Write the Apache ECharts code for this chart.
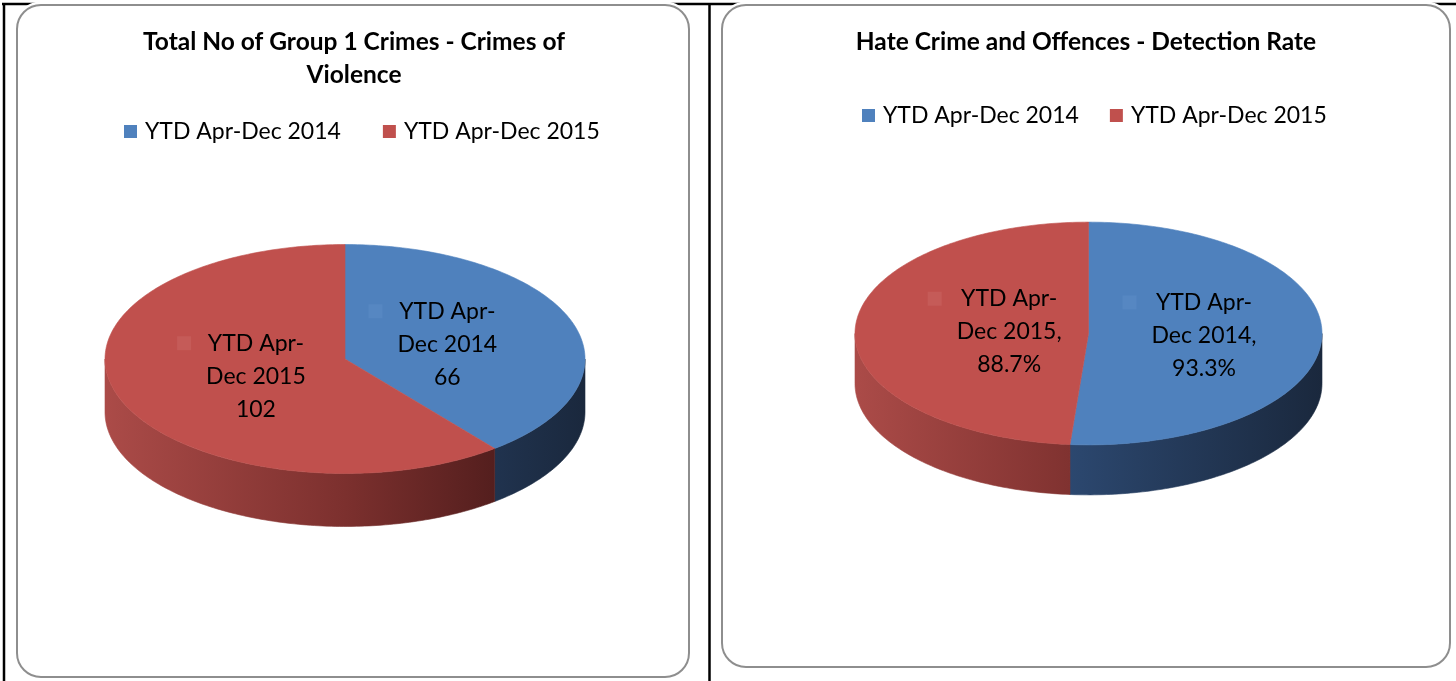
<!DOCTYPE html>
<html><head><meta charset="utf-8">
<script src="https://cdn.jsdelivr.net/npm/echarts@6/dist/echarts.min.js"></script>
<style>html,body{margin:0;padding:0;background:#fff;} #c{width:1456px;height:681px;}</style>
</head><body><div id="c"></div>
<script>
// ---------- data ----------
const categories = ['YTD Apr-Dec 2014', 'YTD Apr-Dec 2015'];
const crimesOfViolence = [66, 102];
const hateDetectionRate = [93.3, 88.7];
const chartTitles = ['Total No of Group 1 Crimes - Crimes of\nViolence', 'Hate Crime and Offences - Detection Rate'];

// ---------- style / layout ----------
const FONT = 'Lato, "Open Sans", sans-serif';
const LABEL_SIZE = 23, LABEL_LH = 33;
const topColors = ['#4f81bd', '#c0504d'];
const keyColors = ['#5687c2', '#c55b58'];
const sideStops = [
  [{offset: 0, color: '#3e6090'}, {offset: 0.45, color: '#2c4870'}, {offset: 1, color: '#1a283d'}],
  [{offset: 0, color: '#ab4b48'}, {offset: 0.5, color: '#7c302e'}, {offset: 1, color: '#3c1414'}]
];
const pies = [
  {values: crimesOfViolence, cx: 345, cy: 359, rx: 240, k: 0.477, depth: 53, sep: '\n',
   fmt: v => String(v), labelR: [0.39, 0.455]},
  {values: hateDetectionRate, cx: 1088.5, cy: 333.5, rx: 233.5, k: 0.477, depth: 50, sep: ',\n',
   fmt: v => v.toFixed(1) + '%', labelR: [0.435, 0.40]}
];
pies.forEach(p => { p.total = p.values.reduce((a, b) => a + b, 0); });

const measureCtx = document.createElement('canvas').getContext('2d');
measureCtx.font = LABEL_SIZE + 'px ' + FONT;
function textWidth(lines) { return Math.max.apply(null, lines.map(l => measureCtx.measureText(l).width)); }

function makeRender(p, idx) {
  return function (params, api) {
    const a0 = api.value(1), a1 = api.value(2), raw = api.value(3);
    const total = p.total;
    const c = api.coord([0, 0]);
    const cx = c[0], cy = c[1];
    const sq = pt => [pt[0], cy + (pt[1] - cy) * p.k];
    const arc = (s, e) => {
      const n = Math.max(2, Math.ceil((e - s) / total * 360));
      const pts = [];
      for (let j = 0; j <= n; j++) pts.push(sq(api.coord([1, s + (e - s) * j / n])));
      return pts;
    };
    const rx = api.coord([1, total * 0.25])[0] - cx;
    const children = [];
    const f0 = Math.max(a0, total * 0.25), f1 = Math.min(a1, total * 0.75);
    if (f1 > f0) {
      const topArc = arc(f0, f1);
      const bottom = topArc.map(q => [q[0], q[1] + p.depth]).reverse();
      const grad = new echarts.graphic.LinearGradient(cx - rx, 0, cx + rx, 0, sideStops[idx], true);
      children.push({type: 'polygon', shape: {points: topArc.concat(bottom)},
        style: {fill: grad, stroke: grad, lineWidth: 0.6}});
    }
    children.push({type: 'polygon', shape: {points: [[cx, cy]].concat(arc(a0, a1))},
      style: {fill: topColors[idx], stroke: topColors[idx], lineWidth: 0.6}});
    // data label with legend key
    const mid = (a0 + a1) / 2;
    const lp = sq(api.coord([p.labelR[idx], mid]));
    const parts = categories[idx].split('Apr-');
    const lines = [parts[0] + 'Apr-', parts[1] + (p.sep === ',\n' ? ',' : ''), p.fmt(raw)];
    const tw = textWidth(lines);
    const tcx = lp[0] + 14;
    children.push({type: 'rect', shape: {x: tcx - tw / 2 - 29, y: lp[1] - LABEL_LH - 7, width: 14, height: 14},
      style: {fill: keyColors[idx]}, z2: 99});
    children.push({type: 'text', z2: 100, style: {
      text: lines.join('\n'), x: tcx, y: lp[1], fill: '#000',
      font: LABEL_SIZE + 'px ' + FONT, align: 'center', verticalAlign: 'middle', lineHeight: LABEL_LH}});
    return {type: 'group', children: children};
  };
}

const series = [];
pies.forEach((p, pi) => {
  let cum = 0;
  p.values.forEach((v, idx) => {
    series.push({
      type: 'custom', name: categories[idx], coordinateSystem: 'polar', polarIndex: pi,
      itemStyle: {color: topColors[idx]}, silent: true, animation: false,
      renderItem: makeRender(p, idx),
      data: [[1, cum, cum + v, v]]
    });
    cum += v;
  });
});

const panelBox = [
  {x: 17, y: 5, w: 672, h: 672},
  {x: 722, y: 5, w: 728, h: 662}
];
const graphics = [
  {type: 'line', shape: {x1: 2, y1: 4, x2: 1456, y2: 4}, style: {stroke: '#000', lineWidth: 2.5}, z: -10},
  {type: 'line', shape: {x1: 4, y1: 3, x2: 4, y2: 681}, style: {stroke: '#000', lineWidth: 2.5}, z: -10},
  {type: 'line', shape: {x1: 709.5, y1: 3, x2: 709.5, y2: 681}, style: {stroke: '#000', lineWidth: 2.5}, z: -10}
];
panelBox.forEach(b => {
  graphics.push({type: 'rect', shape: {x: b.x - 1, y: b.y - 2, width: b.w + 2, height: b.h + 3, r: 25},
    style: {fill: '#fff', stroke: '#fff', lineWidth: 3}, z: -9});
  graphics.push({type: 'rect', shape: {x: b.x, y: b.y, width: b.w, height: b.h, r: 24},
    style: {fill: '#fff', stroke: '#8e8e8e', lineWidth: 2}, z: -8});
});

const titleStyle = {fontFamily: FONT, fontWeight: 'bold', fontSize: 24.5, lineHeight: 33, color: '#000'};
const legendText = {fontFamily: FONT, fontSize: 23, color: '#000', padding: [0, 0, 0, 3]};
const option = {
  animation: false,
  backgroundColor: '#fff',
  graphic: graphics,
  title: [
    {text: chartTitles[0], left: 354, top: 26, textAlign: 'center', padding: 0, textStyle: titleStyle},
    {text: chartTitles[1], left: 1086, top: 26, textAlign: 'center', padding: 0, textStyle: titleStyle}
  ],
  legend: [
    {data: categories, left: 124, top: 120, itemWidth: 13, itemHeight: 13, itemGap: 42, icon: 'rect', padding: 0,
     selectedMode: false, textStyle: legendText},
    {data: categories, left: 862, top: 104, itemWidth: 13, itemHeight: 13, itemGap: 31, icon: 'rect', padding: 0,
     selectedMode: false, textStyle: legendText}
  ],
  polar: pies.map(p => ({center: [p.cx, p.cy], radius: p.rx})),
  angleAxis: pies.map((p, i) => ({polarIndex: i, type: 'value', min: 0, max: p.total, startAngle: 90, clockwise: true,
    show: false, axisLine: {show: false}, splitLine: {show: false}, axisLabel: {show: false}, axisTick: {show: false}})),
  radiusAxis: pies.map((p, i) => ({polarIndex: i, type: 'value', min: 0, max: 1,
    show: false, axisLine: {show: false}, splitLine: {show: false}, axisLabel: {show: false}, axisTick: {show: false}})),
  series: series
};
const chart = echarts.init(document.getElementById('c'), null, {renderer: 'canvas'});
chart.setOption(option);
</script>
</body></html>
